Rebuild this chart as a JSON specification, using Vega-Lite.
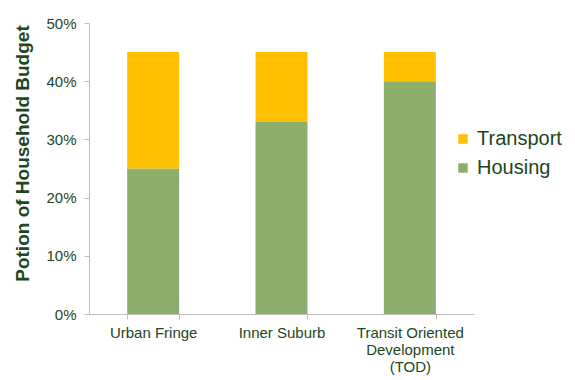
{
  "$schema": "https://vega.github.io/schema/vega-lite/v6.json",
  "width": 385,
  "height": 291,
  "autosize": {"type": "none"},
  "padding": {"left": 89, "top": 23, "right": 101, "bottom": 66},
  "background": "white",
  "data": {"values": [
    {"area": "Urban Fringe", "category": "Housing", "share": 0.25},
    {"area": "Urban Fringe", "category": "Transport", "share": 0.20},
    {"area": "Inner Suburb", "category": "Housing", "share": 0.33},
    {"area": "Inner Suburb", "category": "Transport", "share": 0.12},
    {"area": "Transit Oriented Development (TOD)", "category": "Housing", "share": 0.40},
    {"area": "Transit Oriented Development (TOD)", "category": "Transport", "share": 0.05}
  ]},
  "config": {
    "view": {"stroke": null},
    "font": "Liberation Sans"
  },
  "mark": {"type": "bar"},
  "encoding": {
    "x": {
      "field": "area", "type": "nominal", "sort": null,
      "scale": {"paddingInner": 0.595, "paddingOuter": 0.2975},
      "axis": {
        "title": null, "labelAngle": 0, "labelFontSize": 15, "labelColor": "#1E4620",
        "labelPadding": 6, "labelLineHeight": 17, "labelBaseline": "top",
        "labelExpr": "datum.value == 'Transit Oriented Development (TOD)' ? ['Transit Oriented', 'Development', '(TOD)'] : datum.value",
        "tickBand": "extent", "tickSize": 5, "tickColor": "#BFBFBF", "domainColor": "#BFBFBF",
        "grid": false
      }
    },
    "y": {
      "field": "share", "type": "quantitative", "stack": "zero",
      "scale": {"domain": [0, 0.5], "nice": false},
      "axis": {
        "title": "Potion of Household Budget", "titleFontSize": 19, "titleFontWeight": "bold",
        "titleColor": "#1E4620", "titleX": -57, "titleY": 130,
        "format": ".0%", "values": [0, 0.1, 0.2, 0.3, 0.4, 0.5],
        "labelFontSize": 15, "labelColor": "#1E4620", "labelPadding": 8,
        "tickSize": 5, "tickColor": "#BFBFBF", "domainColor": "#BFBFBF", "grid": false
      }
    },
    "color": {
      "field": "category", "type": "nominal",
      "scale": {"domain": ["Transport", "Housing"], "range": ["#FFC000", "#8CAE6A"]},
      "legend": {
        "title": null, "orient": "none", "legendX": 364, "legendY": 106,
        "symbolType": "square", "symbolSize": 90, "symbolStrokeWidth": 0,
        "labelFontSize": 20, "labelColor": "#1E4620", "rowPadding": 9, "labelOffset": 4
      }
    },
    "order": {"field": "category", "sort": "ascending"}
  }
}
